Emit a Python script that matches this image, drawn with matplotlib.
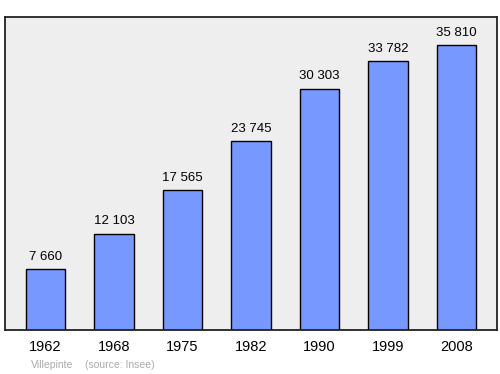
import matplotlib
matplotlib.use('Agg')
import matplotlib.pyplot as plt

YEARS = ["1962", "1968", "1975", "1982", "1990", "1999", "2008"]
POP = [7660, 12103, 17565, 23745, 30303, 33782, 35810]
LABELS = ["7 660", "12 103", "17 565", "23 745", "30 303", "33 782", "35 810"]


def main():
    fig = plt.figure(figsize=(5, 3.74), dpi=100)
    ax = fig.add_axes([0.01, 44 / 374, 0.984, 313 / 374])
    ax.set_facecolor('#eeeeee')

    x = range(len(YEARS))
    ax.bar(x, POP, width=0.58, color='#7799ff', edgecolor='black', linewidth=1)
    for i, v in enumerate(POP):
        ax.annotate(LABELS[i], (i, v), xytext=(0, 4.5), textcoords='offset points',
                    ha='center', va='bottom', fontsize=9.5, family='Liberation Sans')

    ax.set_xlim(-0.59, 6.59)
    ax.set_ylim(0, 39300)
    ax.set_yticks([])
    ax.set_xticks(list(x))
    ax.set_xticklabels(YEARS, fontsize=10.5, family='Liberation Sans')
    ax.tick_params(axis='x', length=0, pad=7.5)
    for s in ax.spines.values():
        s.set_linewidth(1.3)
        s.set_color('#222222')

    fig.text(52 / 500, 1 - 365 / 374, "Villepinte", ha='center', va='center',
             fontsize=7.5, color='#aaaaaa', family='Liberation Sans')
    fig.text(85 / 500, 1 - 365 / 374, "(source: Insee)", ha='left', va='center',
             fontsize=7.5, color='#aaaaaa', family='Liberation Sans')

    fig.savefig('out.png', dpi=100)


if __name__ == "__main__":
    main()
